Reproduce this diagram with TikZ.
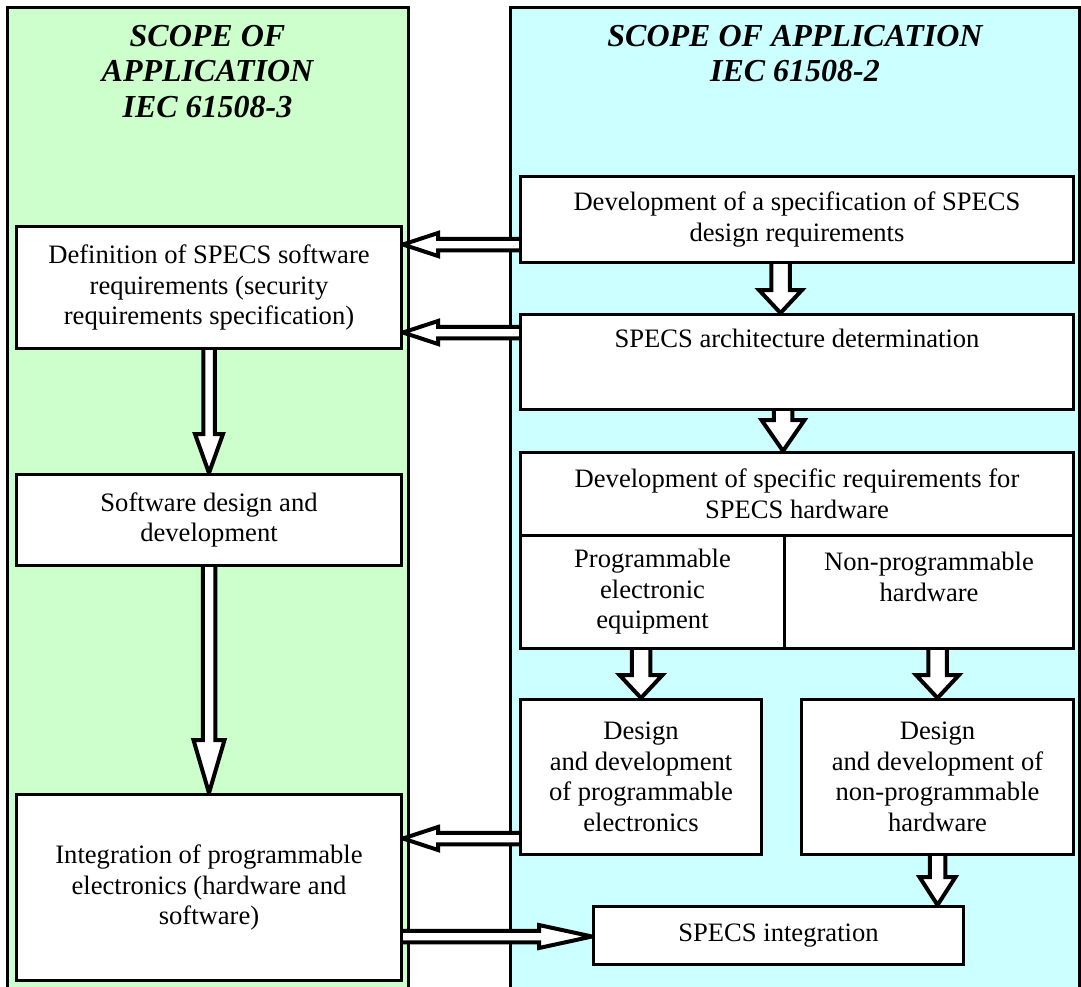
\documentclass[tikz,border=0pt]{standalone}
\usepackage{fontspec}
\setmainfont{Liberation Serif}
\usetikzlibrary{calc}
\definecolor{pgreen}{HTML}{CCFFCC}
\definecolor{pcyan}{HTML}{CCFFFF}
\pgfdeclarelayer{background}
\pgfdeclarelayer{arrowlayer}
\pgfsetlayers{background,arrowlayer,main}
\newcommand\blockarrow[5]{%
  \coordinate (ba) at (#1);
  \coordinate (bb) at (#2);
  \coordinate (bh) at ($(bb)!#5!(ba)$);
  \draw[barrow] ($(ba)!#3!90:(bb)$) -- ($(bh)!#3!90:(bb)$) -- ($(bh)!#4!90:(bb)$) -- (bb)
    -- ($(bh)!#4!-90:(bb)$) -- ($(bh)!#3!-90:(bb)$) -- ($(ba)!#3!-90:(bb)$);}
\begin{document}
\begin{tikzpicture}[x=1pt,y=-1pt,
  panel/.style={draw, line width=3pt},
  box/.style={draw, fill=white, line width=3pt, anchor=north west, inner sep=0pt,
    align=center, font=\fontsize{26.6}{30.5}\selectfont},
  title/.style={anchor=north, align=center, inner sep=0pt,
    font=\fontsize{32}{35.5}\selectfont\bfseries\itshape},
  barrow/.style={draw, fill=white, line width=4pt, line join=miter}]
\useasboundingbox (0,0) rectangle (1081,986);
\begin{pgfonlayer}{background}
\fill[white] (0,0) rectangle (1081,986);
\draw[panel, fill=pgreen] (7,7) rectangle (408,1000);
\draw[panel, fill=pcyan] (510,7) rectangle (1079,1000);
\end{pgfonlayer}

% titles
\node[title] (t3) at (207.5,25) {SCOPE OF\\APPLICATION\\IEC 61508-3};
\node[title] (t2) at (795,25) {SCOPE OF APPLICATION\\IEC 61508-2};

% left column
\node[box, minimum width=385pt, minimum height=122pt] (defn) at (15,225)
  {Definition of SPECS software\\requirements (security\\requirements specification)};
\node[box, minimum width=385pt, minimum height=91pt] (sw) at (15,473)
  {Software design and\\development};
\node[box, minimum width=385pt, minimum height=186pt] (integ) at (15,793)
  {Integration of programmable\\electronics (hardware and\\software)};

% right column
\node[box, minimum width=553pt, minimum height=86pt] (spec) at (519,175)
  {Development of a specification of SPECS\\design requirements};
\node[box, minimum width=553pt, minimum height=95pt] (arch) at (519,313)
  {SPECS architecture determination\\[16pt]\mbox{}};
\node[box, minimum width=553pt, minimum height=83pt] (hw) at (519,451)
  {Development of specific requirements for\\SPECS hardware};
\node[box, minimum width=264pt, minimum height=113pt] (pee) at (519,534)
  {Programmable\\electronic\\equipment};
\node[box, minimum width=289pt, minimum height=113pt] (nph) at (783,534)
  {Non-programmable\\hardware\\\mbox{}};
\node[box, minimum width=241pt, minimum height=155pt] (dpe) at (519,698)
  {Design\\and development\\of programmable\\electronics};
\node[box, minimum width=272pt, minimum height=155pt] (dnph) at (800,698)
  {Design\\and development of\\non-programmable\\hardware};
\node[box, minimum width=370pt, minimum height=58pt] (sint) at (592,905)
  {SPECS integration};

\begin{pgfonlayer}{arrowlayer}
% horizontal arrows
\coordinate (a1s) at ($(spec.west)+(0,25)$);
\coordinate (a1e) at (defn.east |- a1s);
\blockarrow{a1s}{a1e}{5.75pt}{11.5pt}{35pt}
\coordinate (a2s) at ($(arch.west)+(0,-29.5)$);
\coordinate (a2e) at (defn.east |- a2s);
\blockarrow{a2s}{a2e}{5.75pt}{11.5pt}{35pt}
\coordinate (a3s) at ($(dpe.west)+(0,61.5)$);
\coordinate (a3e) at (integ.east |- a3s);
\blockarrow{a3s}{a3e}{5.75pt}{11.5pt}{35pt}
\coordinate (a4s) at ($(integ.east)+(0,49)$);
\coordinate (a4e) at (sint.west |- a4s);
\blockarrow{a4s}{a4e}{5.75pt}{11.5pt}{53pt}
% left vertical arrows
\blockarrow{defn.south}{sw.north}{5.75pt}{14pt}{39pt}
\blockarrow{sw.south}{integ.north}{6.25pt}{15.5pt}{53pt}
% right vertical arrows
\coordinate (a7s) at ($(spec.south)+(-16.5,0)$);
\coordinate (a7e) at (a7s |- arch.north);
\blockarrow{a7s}{a7e}{9.25pt}{21.5pt}{23pt}
\coordinate (a8s) at ($(arch.south)+(-14,0)$);
\coordinate (a8e) at (a8s |- hw.north);
\blockarrow{a8s}{a8e}{9.25pt}{21.5pt}{31pt}
\coordinate (a9s) at (dpe.north |- pee.south);
\blockarrow{a9s}{dpe.north}{9.25pt}{21.5pt}{23pt}
\coordinate (a10s) at (dnph.north |- nph.south);
\blockarrow{a10s}{dnph.north}{9.25pt}{21.5pt}{23pt}
\coordinate (a11e) at (dnph.south |- sint.north);
\blockarrow{dnph.south}{a11e}{7.75pt}{18pt}{28pt}
\end{pgfonlayer}
\end{tikzpicture}
\end{document}
